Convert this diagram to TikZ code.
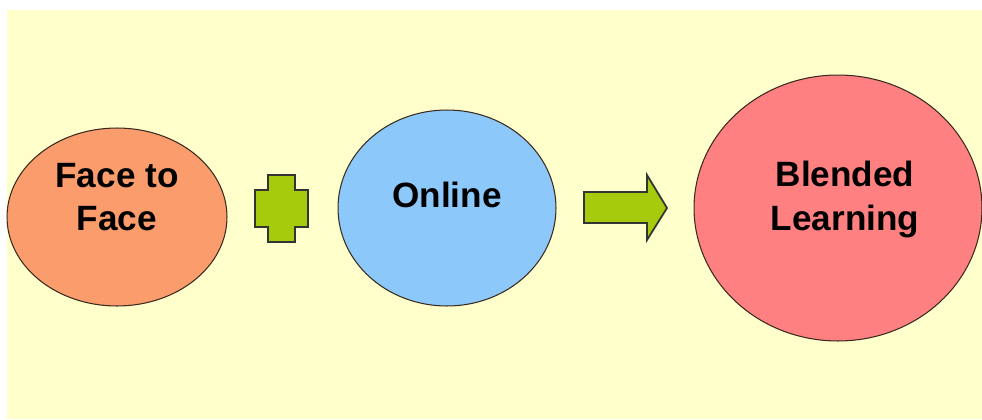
\documentclass[tikz,border=0pt]{standalone}
\usepackage{fontspec}
\setmainfont{Liberation Sans}
\usepackage{tikz}
\usetikzlibrary{shapes.geometric,positioning}
\definecolor{paper}{HTML}{FFFFCC}
\definecolor{ink}{HTML}{3A2A20}
\definecolor{facecol}{HTML}{FA9C6B}
\definecolor{onlinecol}{HTML}{8CC8FA}
\definecolor{blendcol}{HTML}{FF8080}
\definecolor{opcol}{HTML}{A6CA0C}

\begin{document}
\begin{tikzpicture}[x=0.02cm,y=-0.02cm,
  blob/.style={draw=ink,line width=0.6pt,ellipse,inner sep=0pt},
  txt/.style={font=\fontsize{20}{24.5}\selectfont\bfseries,align=center,inner sep=0pt},
  sym/.style={draw=black!80,line width=1pt,fill=opcol,line join=miter}
]
  \useasboundingbox (0,0) rectangle (982,419);
  \fill[paper] (7,10) rectangle (982,419);
  % the three parts
  \node[blob,fill=facecol,minimum width=4.4cm,minimum height=3.56cm,
        label={[txt,yshift=0.4cm]center:Face to\\Face}]       (f2f)    at (117,217) {};
  \node[blob,fill=onlinecol,minimum width=4.36cm,minimum height=3.92cm,
        label={[txt,yshift=0.26cm]center:Online}]             (online) at (447,208) {};
  \node[blob,fill=blendcol,minimum width=5.76cm,minimum height=5.32cm,
        label={[txt,xshift=0.14cm,yshift=0.17cm]center:Blended\\Learning}]  (blend)  at (838,208) {};
  % plus and arrow
  \draw[sym] (268,175) -- (295,175) -- (295,190) -- (308,190) -- (308,227) -- (295,227)
     -- (295,242) -- (268,242) -- (268,227) -- (255,227) -- (255,190) -- (268,190) -- cycle;
  \draw[sym] (584,192) -- (647,192) -- (647,175) -- (667,208) -- (647,240) -- (647,223)
     -- (584,223) -- cycle;
\end{tikzpicture}
\end{document}
